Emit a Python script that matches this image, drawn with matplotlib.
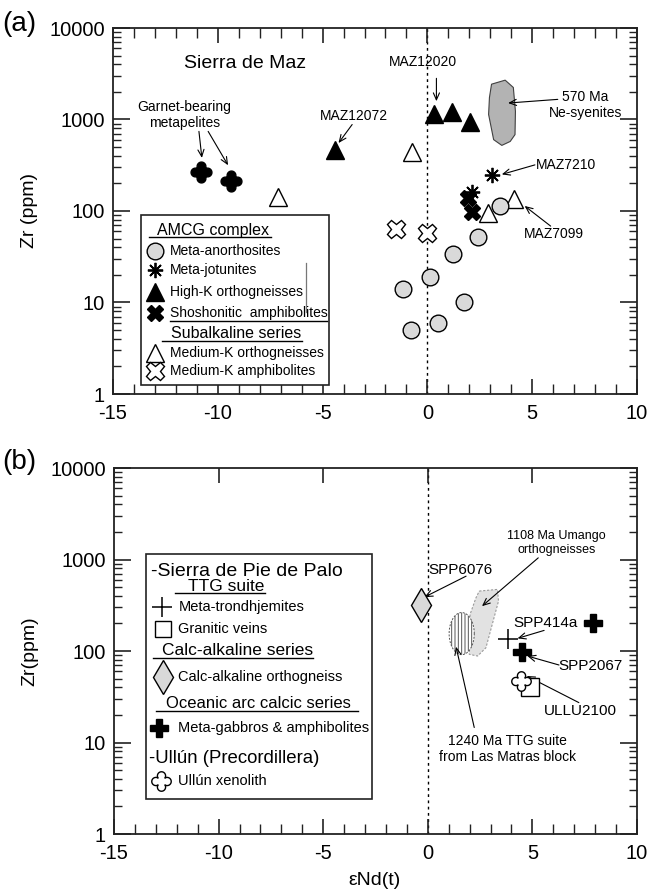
import numpy as np
import matplotlib
matplotlib.use("Agg")
import matplotlib.pyplot as plt
from matplotlib.path import Path
from matplotlib.patches import Rectangle, Polygon
from matplotlib.ticker import MultipleLocator, LogLocator, NullFormatter

plt.rcParams['font.family'] = ['Liberation Sans', 'DejaVu Sans']
plt.rcParams['hatch.linewidth'] = 0.7

# ---------------- data: (a) Sierra de Maz ----------------
anorth_end = [3.45, 2.43, 1.24, 0.13, -1.16, 1.75, 0.51, -0.78]
anorth_zr = [113, 52, 34, 19, 14, 10, 6.0, 5.0]
jotun_end = [3.08, 2.15]
jotun_zr = [245, 162]
highk_end = [-4.4, 0.3, 1.15, 2.05]
highk_zr = [460, 1160, 1210, 930]
shosh_end = [1.96, 2.15]
shosh_zr = [139, 97]
medk_orth_end = [-7.15, -0.73, 2.91, 4.13]
medk_orth_zr = [143, 440, 96, 134]
medk_amph_end = [-1.48, -0.03]
medk_amph_zr = [63, 58]
garnet_end = [-10.8, -9.38]
garnet_zr = [265, 214]
# outline of the 570 Ma Ne-syenite field (eNd, log10 Zr)
nesy_end = [3.06, 3.71, 4.10, 4.20, 4.18, 3.95, 3.55, 3.16, 2.92, 2.96]
nesy_logzr = [3.386, 3.43, 3.35, 3.09, 2.835, 2.76, 2.717, 2.78, 3.055, 3.24]

# ---------------- data: (b) Sierra de Pie de Palo / Ullun ----------------
trond_end = [3.81]
trond_zr = [134]
veins_end = [4.89]
veins_zr = [40]
calcalk_end = [-0.33]
calcalk_zr = [320]
gabbro_end = [4.52, 7.9]
gabbro_zr = [98, 200]
ullun_end = [4.44]
ullun_zr = [47]
# outline of the 1108 Ma Umango orthogneiss field (eNd, log10 Zr)
umango_end = [2.46, 3.33, 3.38, 2.78, 2.38, 1.98, 2.02, 2.30]
umango_logzr = [2.655, 2.673, 2.545, 2.036, 1.945, 1.964, 2.40, 2.58]
# 1240 Ma TTG field: centre and half-widths (eNd, log10 Zr)
ttg_centre = (1.62, 2.19)
ttg_half = (0.60, 0.23)

x_ticks = [-15, -10, -5, 0, 5, 10]
x_tick_labels = ['-15', '-10', '-5', '0', '5', '10']
y_ticks = [1, 10, 100, 1000, 10000]
y_tick_labels = ['1', '10', '100', '1000', '10000']


def quatrefoil(d=0.58, rho=0.42, n=40):
    """Four-lobed marker outline made of overlapping circle arcs."""
    p = (d + np.sqrt(2 * rho ** 2 - d ** 2)) / 2
    a = np.arctan2(p, p - d)
    verts = []
    for k in range(4):
        rot = k * np.pi / 2
        t = np.linspace(-a, a, n)
        x = d + rho * np.cos(t)
        y = rho * np.sin(t)
        xr = x * np.cos(rot) - y * np.sin(rot)
        yr = x * np.sin(rot) + y * np.cos(rot)
        verts.extend(zip(xr, yr))
    verts.append(verts[0])
    codes = [Path.MOVETO] + [Path.LINETO] * (len(verts) - 2) + [Path.CLOSEPOLY]
    return Path(np.array(verts), codes)


QUAD = quatrefoil()
GREY = '#d9d9d9'
AX_COL = '#222222'


def L(v):
    return 10 ** v


def style_axis(ax, top_minor=True):
    ax.set_yscale('log')
    ax.set_xlim(-15, 10)
    ax.set_ylim(1, 10000)
    ax.set_xticks(x_ticks, labels=x_tick_labels)
    ax.set_yticks(y_ticks, labels=y_tick_labels)
    ax.xaxis.set_minor_locator(MultipleLocator(1))
    ax.yaxis.set_minor_locator(LogLocator(10, subs=np.arange(2, 10)))
    ax.yaxis.set_minor_formatter(NullFormatter())
    for s in ax.spines.values():
        s.set_linewidth(1.3)
        s.set_color(AX_COL)
    ax.tick_params(which='both', direction='in', top=True, right=True,
                   colors=AX_COL, labelcolor='black', labelsize=14.5)
    ax.tick_params(axis='y', which='major', length=12, width=1.2, pad=6)
    ax.tick_params(axis='y', which='minor', length=6, width=1.0)
    ax.tick_params(axis='x', which='major', length=11, width=1.2, pad=7)
    ax.tick_params(axis='x', which='minor', length=7, width=1.0)
    if not top_minor:
        ax.tick_params(axis='x', which='minor', top=False)
        ax.tick_params(axis='x', which='major', top=True)
    ax.axvline(0, color='black', lw=1.0, ls=(0, (2, 2.5)), zorder=1)


def arrow(ax, xy_from, xy_to):
    ax.annotate('', xy=xy_to, xytext=xy_from,
                arrowprops=dict(arrowstyle='->,head_length=0.5,head_width=0.22',
                                color='black', lw=0.8, shrinkA=0, shrinkB=0))


fig = plt.figure(figsize=(6.5, 8.96), dpi=100)
ax_a = fig.add_axes([113 / 650, 1 - 394 / 896, 524 / 650, 366 / 896])
ax_b = fig.add_axes([114 / 650, 1 - 834 / 896, 523 / 650, 366 / 896])

# =================== (a) Sierra de Maz ===================
ax = ax_a
style_axis(ax, top_minor=True)

ax.add_patch(Polygon(np.column_stack([nesy_end, L(np.array(nesy_logzr))]),
                     closed=True, facecolor='#b3b3b3', edgecolor='#404040',
                     lw=0.8, zorder=2))

ax.plot(garnet_end, garnet_zr, ls='none', marker=QUAD, ms=15, mfc='black',
        mec='black', zorder=4)
ax.plot(highk_end, highk_zr, ls='none', marker='^', ms=13.5, mfc='black',
        mec='black', zorder=4)
ax.plot(medk_orth_end, medk_orth_zr, ls='none', marker='^', ms=13.5, mfc='white',
        mec='black', mew=1.0, zorder=4)
ax.plot(anorth_end, anorth_zr, ls='none', marker='o', ms=12, mfc=GREY,
        mec='black', mew=1.0, zorder=4)
ax.plot(shosh_end, shosh_zr, ls='none', marker='X', ms=12, mfc='black',
        mec='black', zorder=5)
ax.plot(jotun_end, jotun_zr, ls='none', marker=(8, 2, 0), ms=11, mec='black',
        mew=1.3, zorder=6)
ax.plot(medk_amph_end, medk_amph_zr, ls='none', marker='X', ms=13, mfc='white',
        mec='black', mew=1.0, zorder=4)

ax.text(-8.68, L(3.607), 'Sierra de Maz', fontsize=14, ha='center', va='center')
ax.text(-0.2, L(3.625), 'MAZ12020', fontsize=10, ha='center', va='center')
arrow(ax, (0.43, L(3.45)), (0.43, L(3.20)))
ax.text(-11.59, L(3.05), 'Garnet-bearing\nmetapelites', fontsize=10,
        ha='center', va='center', linespacing=1.15)
arrow(ax, (-10.9, L(2.87)), (-10.76, L(2.58)))
arrow(ax, (-10.46, L(2.87)), (-9.51, L(2.50)))
ax.text(-3.49, L(3.037), 'MAZ12072', fontsize=10, ha='center', va='center')
arrow(ax, (-3.59, L(2.945)), (-4.24, L(2.743)))
ax.text(7.55, L(3.16), '570 Ma\nNe-syenites', fontsize=10, ha='center',
        va='center', linespacing=1.15)
arrow(ax, (6.22, L(3.22)), (3.85, L(3.18)))
ax.text(5.18, L(2.504), 'MAZ7210', fontsize=10, ha='left', va='center')
arrow(ax, (5.13, L(2.504)), (3.55, L(2.40)))
ax.text(6.04, L(1.744), 'MAZ7099', fontsize=10, ha='center', va='center')
arrow(ax, (5.88, L(1.835)), (4.64, L(2.055)))

# legend box (a)
ax.add_patch(Rectangle((-13.66, L(0.098)), 13.66 - 4.69, L(1.956) - L(0.098),
                       facecolor='white', edgecolor=AX_COL, lw=1.2, zorder=3))
ax.plot([-5.79, -5.79], [L(1.428), L(0.899)], color='#777777', lw=0.9, zorder=4)
ax.text(-12.88, L(1.792), 'AMCG complex', fontsize=11.5, ha='left', va='center', zorder=5)
ax.plot([-13.26, -7.44], [L(1.716), L(1.716)], color='black', lw=1.0, zorder=5)
leg_a = [
    (1.563, 'Meta-anorthosites', dict(marker='o', ms=12, mfc=GREY, mec='black', mew=1.0)),
    (1.355, 'Meta-jotunites', dict(marker=(8, 2, 0), ms=11, mec='black', mew=1.3)),
    (1.115, 'High-K orthogneisses', dict(marker='^', ms=13.5, mfc='black', mec='black')),
    (0.885, 'Shoshonitic  amphibolites', dict(marker='X', ms=12, mfc='black', mec='black')),
    (0.451, 'Medium-K orthogneisses', dict(marker='^', ms=13.5, mfc='white', mec='black', mew=1.0)),
    (0.255, 'Medium-K amphibolites', dict(marker='X', ms=13, mfc='white', mec='black', mew=1.0)),
]
for ly, label, mk in leg_a:
    ax.plot([-12.98], [L(ly)], ls='none', zorder=5, **mk)
    ax.text(-12.28, L(ly), label, fontsize=10, ha='left', va='center', zorder=5)
ax.plot([-12.29, -4.79], [L(0.795), L(0.795)], color='black', lw=1.0, zorder=5)
ax.text(-12.23, L(0.663), 'Subalkaline series', fontsize=11.5, ha='left', va='center', zorder=5)
ax.plot([-12.66, -5.98], [L(0.582), L(0.582)], color='black', lw=1.0, zorder=5)

# =================== (b) Sierra de Pie de Palo ===================
ax = ax_b
style_axis(ax, top_minor=False)

ax.add_patch(Polygon(np.column_stack([umango_end, L(np.array(umango_logzr))]),
                     closed=True, facecolor='#e2e2e2', edgecolor='#9a9a9a',
                     lw=0.8, ls=(0, (2, 1.5)), zorder=2))
t = np.linspace(0, 2 * np.pi, 120)
ell_x = ttg_centre[0] + ttg_half[0] * np.cos(t)
ell_y = L(ttg_centre[1] + ttg_half[1] * np.sin(t))
ax.add_patch(Polygon(np.column_stack([ell_x, ell_y]), closed=True,
                     facecolor='white', edgecolor='#555555', lw=0.7,
                     hatch='|||||', ls=(0, (2, 1.5)), zorder=3))

ax.plot(calcalk_end, calcalk_zr, ls='none', marker='d', ms=17, mfc=GREY,
        mec='black', mew=1.0, zorder=4)
ax.plot(veins_end, veins_zr, ls='none', marker='s', ms=13, mfc='white',
        mec='black', mew=1.0, zorder=4)
ax.plot(ullun_end, ullun_zr, ls='none', marker=QUAD, ms=14, mfc='white',
        mec='black', mew=1.0, zorder=5)
ax.plot(trond_end, trond_zr, ls='none', marker='+', ms=14, mec='black',
        mew=1.1, zorder=4)
ax.plot(gabbro_end, gabbro_zr, ls='none', marker='P', ms=13, mfc='black',
        mec='black', zorder=4)

ax.text(1.57, L(2.88), 'SPP6076', fontsize=11, ha='center', va='center')
arrow(ax, (1.83, L(2.818)), (-0.16, L(2.589)))
ax.text(6.16, L(3.18), '1108 Ma Umango\northogneisses', fontsize=9,
        ha='center', va='center', linespacing=1.2)
arrow(ax, (5.28, L(3.018)), (2.59, L(2.49)))
ax.text(5.63, L(2.31), 'SPP414a', fontsize=11, ha='center', va='center')
arrow(ax, (5.56, L(2.225)), (4.29, L(2.138)))
ax.text(7.78, L(1.836), 'SPP2067', fontsize=11, ha='center', va='center')
arrow(ax, (6.27, L(1.847)), (4.76, L(1.945)))
ax.text(7.30, L(1.345), 'ULLU2100', fontsize=11, ha='center', va='center')
arrow(ax, (7.22, L(1.436)), (4.73, L(1.727)))
ax.text(3.81, L(0.93), '1240 Ma TTG suite\nfrom Las Matras block', fontsize=10,
        ha='center', va='center', linespacing=1.15)
arrow(ax, (2.22, L(1.164)), (1.35, L(2.047)))

# legend box (b)
ax.add_patch(Rectangle((-13.48, L(0.383)), 13.48 - 2.69, L(3.055) - L(0.383),
                       facecolor='white', edgecolor=AX_COL, lw=1.2, zorder=3))
ax.text(-13.22, L(2.867), '-Sierra de Pie de Palo', fontsize=14, ha='left',
        va='center', zorder=5)
ax.text(-11.44, L(2.703), 'TTG suite', fontsize=12.5, ha='left', va='center', zorder=5)
ax.plot([-12.07, -7.78], [L(2.637), L(2.637)], color='black', lw=1.0, zorder=5)
ax.text(-12.69, L(2.003), 'Calc-alkaline series', fontsize=12.5, ha='left',
        va='center', zorder=5)
ax.plot([-13.14, -5.47], [L(1.927), L(1.927)], color='black', lw=1.0, zorder=5)
ax.text(-12.53, L(1.428), 'Oceanic arc calcic series', fontsize=12, ha='left',
        va='center', zorder=5)
ax.plot([-13.01, -3.36], [L(1.348), L(1.348)], color='black', lw=1.0, zorder=5)
ax.text(-13.33, L(0.827), '-Ullún (Precordillera)', fontsize=13.4, ha='left',
        va='center', zorder=5)
leg_b = [
    (2.484, -12.69, 'Meta-trondhjemites', dict(marker='+', ms=14, mec='black', mew=1.1)),
    (2.237, -12.66, 'Granitic veins', dict(marker='s', ms=12, mfc='white', mec='black', mew=1.0)),
    (1.712, -12.64, 'Calc-alkaline orthogneiss', dict(marker='d', ms=17, mfc=GREY, mec='black', mew=1.0)),
    (1.162, -12.87, 'Meta-gabbros & amphibolites', dict(marker='P', ms=13, mfc='black', mec='black')),
    (0.579, -12.74, 'Ullún xenolith', dict(marker=QUAD, ms=14, mfc='white', mec='black', mew=1.0)),
]
for ly, mx, label, mk in leg_b:
    ax.plot([mx], [L(ly)], ls='none', zorder=5, **mk)
    ax.text(-11.92, L(ly), label, fontsize=10.5, ha='left', va='center', zorder=5)

# panel letters and axis titles
fig.text(2 / 650, 1 - 24 / 896, '(a)', fontsize=20, ha='left', va='center')
fig.text(2 / 650, 1 - 462 / 896, '(b)', fontsize=20, ha='left', va='center')
fig.text(30 / 650, 1 - 211 / 896, 'Zr (ppm)', fontsize=14, rotation=90,
         ha='center', va='center')
fig.text(30 / 650, 1 - 651 / 896, 'Zr(ppm)', fontsize=14, rotation=90,
         ha='center', va='center')
fig.text(375 / 650, 1 - 880 / 896, 'εNd(t)', fontsize=14, ha='center', va='center')

fig.savefig('out.png', dpi=100)
